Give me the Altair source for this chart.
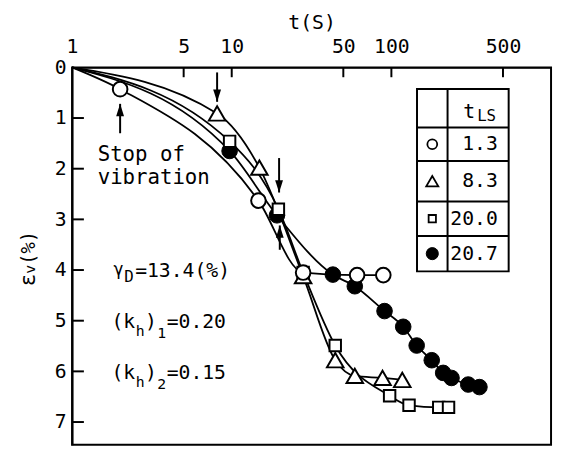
import altair as alt
import pandas as pd

# ---------------- data ----------------
legend_labels = ["1.3", "8.3", "20.0", "20.7"]
x_tick_values = [1, 5, 10, 50, 100, 500]
y_tick_values = [0, 1, 2, 3, 4, 5, 6, 7]
inner_x_ticks = [5, 10, 50, 100, 500]
inner_y_ticks = [1, 2, 3, 4, 5, 6, 7]

origin_t = [1.0]
origin_e = [0.0]

c13_t = [2.0, 14.7, 28.0, 61.0, 89.0]
c13_e = [0.43, 2.63, 4.05, 4.10, 4.10]
t83_t = [8.1, 14.9, 28.0, 44.5, 59.0, 88.0, 117.0]
t83_e = [0.91, 1.98, 4.12, 5.78, 6.09, 6.13, 6.17]
s200_t = [9.7, 19.6, 28.0, 44.5, 97.5, 129.0, 198.0, 228.0]
s200_e = [1.46, 2.80, 4.05, 5.49, 6.48, 6.67, 6.71, 6.71]
f207_t = [9.7, 19.2, 43.0, 59.0, 90.6, 118.6, 144.0, 179.0, 211.0, 238.0, 303.0, 356.0]
f207_e = [1.65, 2.92, 4.09, 4.32, 4.81, 5.12, 5.49, 5.78, 6.03, 6.13, 6.26, 6.31]

arrow_t = [2.0, 8.1, 19.8, 20.0]
arrow_tail = [1.30, 0.10, 1.79, 3.60]
arrow_tip = [0.72, 0.68, 2.47, 3.12]
arrow_dir = ["up", "down", "down", "up"]

# ---------------- style ----------------
FONT = "DejaVu Sans Mono"
W, H = 486, 383
xs = alt.Scale(type="log", domain=[1, 1000])
ys = alt.Scale(domain=[0, 7.45], reverse=True)
UP = "M0,0L-0.7,2.2L0.7,2.2Z"
DOWN = "M0,0L-0.7,-2.2L0.7,-2.2Z"

x_axis = alt.Axis(orient="top", values=x_tick_values, format="d", title="t(S)",
                  grid=False, ticks=False, tickSize=0, labelPadding=11,
                  titlePadding=4, labelFlush=False)
y_axis = alt.Axis(orient="left", values=y_tick_values, format="d", title=None,
                  grid=False, ticks=False, tickSize=0, labelPadding=6)


def X(field):
    return alt.X(field, scale=xs, axis=x_axis)


def Y(field):
    return alt.Y(field, scale=ys, axis=y_axis)


series = [
    ("1.3", c13_t, c13_e),
    ("8.3", t83_t, t83_e),
    ("20.0", s200_t, s200_e),
    ("20.7", f207_t, f207_e),
]
rows = []
for name, ts, es in series:
    rows.append(dict(series=name, t=origin_t[0], e=origin_e[0], k=0))
    for i, (t, e) in enumerate(zip(ts, es)):
        rows.append(dict(series=name, t=t, e=e, k=i + 1))
lines_df = pd.DataFrame(rows)

lines = alt.Chart(lines_df).mark_line(
    color="black", strokeWidth=1.8, interpolate="monotone"
).encode(x=X("t:Q"), y=Y("e:Q"), detail="series:N", order="k:Q")


def pts(ts, es, shape, size, fill):
    df = pd.DataFrame({"t": ts, "e": es})
    return alt.Chart(df).mark_point(
        shape=shape, size=size, filled=True, fill=fill, stroke="black",
        strokeWidth=2 if fill == "white" else 1, opacity=1
    ).encode(x=X("t:Q"), y=Y("e:Q"))


p_f = pts(f207_t, f207_e, "circle", 250, "black")
p_t = pts(t83_t, t83_e, "triangle-up", 280, "white")
p_s = pts(s200_t, s200_e, "square", 135, "white")
p_c = pts(c13_t, c13_e, "circle", 220, "white")

arr_df = pd.DataFrame({"t": arrow_t, "tail": arrow_tail, "tip": arrow_tip, "dir": arrow_dir})
shafts = alt.Chart(arr_df).mark_rule(color="black", strokeWidth=2).encode(
    x=X("t:Q"), y=Y("tail:Q"), y2="tip:Q")
heads = alt.Chart(arr_df).mark_point(filled=True, color="black", size=130, opacity=1).encode(
    x=X("t:Q"), y=Y("tip:Q"),
    shape=alt.Shape("dir:N", scale=alt.Scale(domain=["up", "down"], range=[UP, DOWN]), legend=None),
)

ytick = alt.Chart(pd.DataFrame({"e": inner_y_ticks})).mark_rule(color="black", strokeWidth=2).encode(
    y=Y("e:Q"), x=alt.value(0), x2=alt.value(12))
xtick = alt.Chart(pd.DataFrame({"t": inner_x_ticks})).mark_rule(color="black", strokeWidth=2).encode(
    x=X("t:Q"), y=alt.value(0), y2=alt.value(10))


def label(text, x, y, size=20, align="left", baseline="alphabetic", angle=0, dx=0):
    return alt.Chart(pd.DataFrame({"s": [text]})).mark_text(
        font=FONT, fontSize=size, align=align, baseline=baseline, angle=angle,
        dx=dx, color="black"
    ).encode(text="s:N", x=alt.value(x), y=alt.value(y))


def ypx(v):
    return v * H / 7.45


notes = [
    label("Stop of", 26, 95, 21),
    label("vibration", 26, 118, 21),
]
b4 = ypx(4) + 7.5
b5 = ypx(5) + 7.5
b6 = ypx(6) + 7.5
notes += [
    label("γ", 42, b4 - 2, 17),
    label("D", 53, b4 + 5, 16),
    label("=13.4(%)", 64, b4, 20),
]
for base, sub, val in [(b5, "1", "=0.20"), (b6, "2", "=0.15")]:
    notes += [
        label("(k", 40, base, 20),
        label("h", 64.5, base + 8, 15),
        label(")", 74, base, 20),
        label(sub, 86.5, base + 10, 15),
        label(val, 96, base, 20),
    ]

# y-axis title (rotated)
notes += [
    label("ε", -38, 222, 21, angle=270),
    label("v", -38, 222, 15, angle=270, dx=12.6),
    label("(%)", -38, 222, 19, angle=270, dx=21.6),
]

# legend table
LX0, LX1, LXM = 350, 443, 381
LY = [22, 61, 95, 136, 171, 207]
one = pd.DataFrame({"a": [0]})
leg = [alt.Chart(one).mark_rect(fill="white", stroke="black", strokeWidth=2).encode(
    x=alt.value(LX0), x2=alt.value(LX1), y=alt.value(LY[0]), y2=alt.value(LY[-1]))]
leg.append(alt.Chart(one).mark_rule(color="black", strokeWidth=2).encode(
    x=alt.value(LXM), y=alt.value(LY[0]), y2=alt.value(LY[-1])))
for yy in LY[1:-1]:
    leg.append(alt.Chart(one).mark_rule(color="black", strokeWidth=2).encode(
        x=alt.value(LX0), x2=alt.value(LX1), y=alt.value(yy)))
leg.append(label("t", 397, 51, 20))
leg.append(label("LS", 411, 54, 16))
sym = [("circle", 100, "white"), ("triangle-up", 150, "white"), ("square", 55, "white"), ("circle", 150, "black")]
for i, (lab, (shp, sz, fl)) in enumerate(zip(legend_labels, sym)):
    cy = (LY[i + 1] + LY[i + 2]) / 2
    leg.append(alt.Chart(one).mark_point(
        shape=shp, size=sz, filled=True, fill=fl, stroke="black",
        strokeWidth=1.8 if fl == "white" else 1, opacity=1
    ).encode(x=alt.value(365.5), y=alt.value(cy)))
    leg.append(label(lab, 432, cy, 20, align="right", baseline="middle"))

chart = alt.layer(
    lines, shafts, heads, p_f, p_t, p_s, p_c, ytick, xtick, *notes, *leg
).properties(
    width=W, height=H,
    autosize=alt.AutoSizeParams(type="none"),
    padding={"left": 65, "top": 57, "right": 3, "bottom": 2},
    background="white",
).configure_view(
    stroke="black", strokeWidth=2
).configure_axis(
    domainColor="black", domainWidth=2, labelColor="black", labelFont=FONT,
    labelFontSize=20, titleFont=FONT, titleFontSize=20, titleFontWeight="normal",
    titleColor="black",
)

chart.save("out.html", embed_options={"renderer": "svg", "actions": False})
